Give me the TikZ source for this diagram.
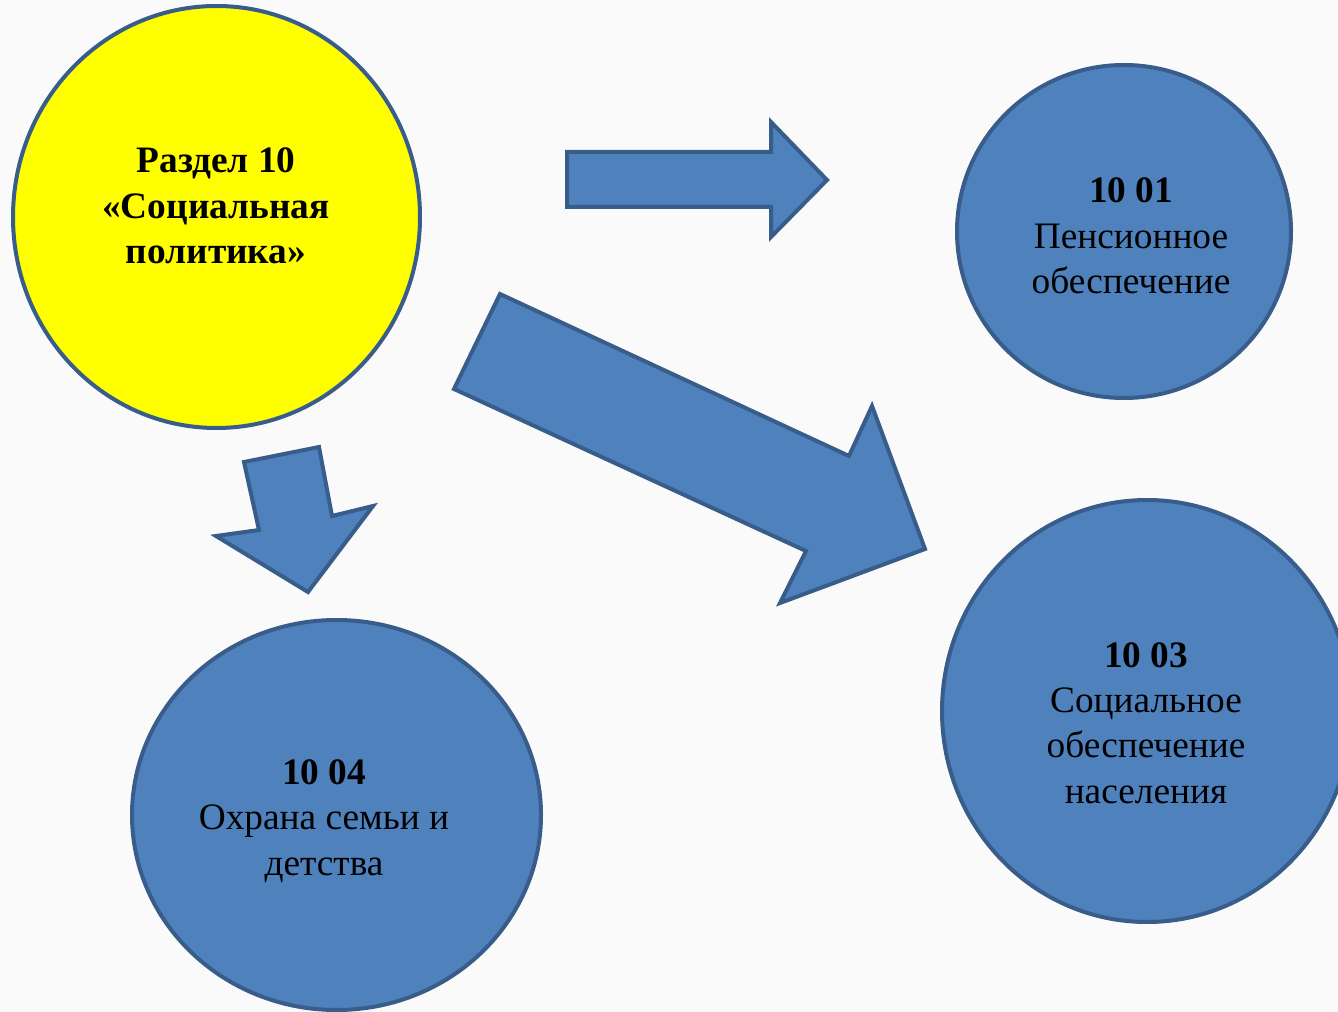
\documentclass[tikz,border=0pt]{standalone}
\usepackage{fontspec}
\setmainfont{Liberation Serif}
\usetikzlibrary{shapes.geometric}
\definecolor{bfill}{HTML}{4F81BD}
\definecolor{bline}{HTML}{385D8A}
\definecolor{bgc}{HTML}{FAFAFA}
\definecolor{yel}{HTML}{FFFF00}
\begin{document}
\begin{tikzpicture}[x=0.75pt,y=-0.75pt,
  circ/.style={ellipse, draw=bline, line width=3pt, inner sep=0pt, outer sep=0pt},
  bluec/.style={circ, fill=bfill},
  blockarrow/.style={fill=bfill, draw=bline, line width=3pt, line join=miter},
  txt/.style={align=center, font=\fontsize{28}{34}\selectfont, text=black, inner sep=0pt}]
\fill[bgc] (0,0) rectangle (1338,1012);
\useasboundingbox (0,0) rectangle (1338,1012);
% circles
\node[circ, fill=yel, minimum width=305.25pt, minimum height=316.5pt] (main) at (216.5,217) {};
\node[bluec, minimum width=250.5pt, minimum height=249.75pt] (c1) at (1124,231.5) {};
\node[bluec, minimum width=307.5pt, minimum height=316.5pt] (c3) at (1147,711) {};
\node[bluec, minimum width=306.75pt, minimum height=292.5pt] (c4) at (336.5,815) {};
% block arrows
\draw[blockarrow] (567,152) -- (771,152) -- (771,122) -- (827,180) -- (771,237) -- (771,207) -- (567,207) -- cycle;
\draw[blockarrow] (500,294) -- (849,456) -- (872,406) -- (925,549) -- (780,603) -- (806,551) -- (454,389) -- cycle;
\draw[blockarrow] (244,462) -- (319,447) -- (332,516) -- (373,506) -- (308,592) -- (216,536) -- (259,530) -- cycle;
% texts
\node[txt, font=\fontsize{28}{34}\selectfont\bfseries] (t0) at (216,206) {Раздел 10\\«Социальная\\политика»};
\node[txt] (t1) at (1131,236) {\textbf{10 01}\\Пенсионное\\обеспечение};
\node[txt] (t3) at (1146,723) {\textbf{10 03}\\Социальное\\обеспечение\\населения};
\node[txt] (t4) at (324,821) {\textbf{10 04}\\Охрана семьи и\\детства};
\end{tikzpicture}
\end{document}
